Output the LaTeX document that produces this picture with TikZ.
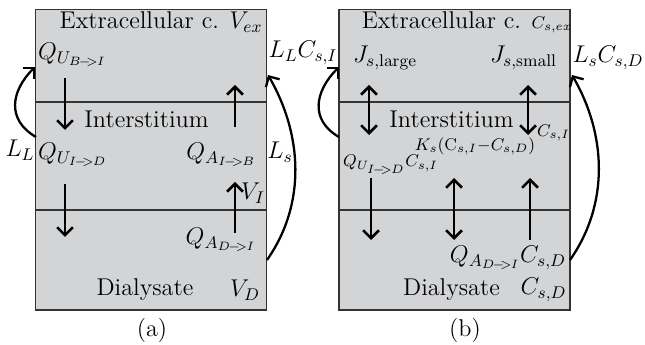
\RequirePackage{fix-cm}
\documentclass[tikz,border=0pt]{standalone}
\usetikzlibrary{arrows.meta}
\definecolor{boxgray}{RGB}{211,212,214}
\newcommand{\flowarr}{\mkern-2mu-\mkern-5mu>\mkern-1mu}
\begin{document}
\begin{tikzpicture}[
    panel/.style={draw=black!80, fill=boxgray, line width=0.6pt},
    divider/.style={draw=black!80, line width=0.6pt},
    flow/.style={-{Straight Barb[length=4.5pt, width=9pt]}, line width=1.5pt},
    swap/.style={{Straight Barb[length=4.5pt, width=9pt]}-{Straight Barb[length=4.5pt, width=9pt]}, line width=1.5pt},
    leak/.style={-{Straight Barb[length=4.5pt, width=9pt]}, line width=1.3pt},
    txt/.style={font=\fontsize{13.8}{16}\selectfont, inner sep=1pt}
]
    \useasboundingbox (0,0) rectangle (12.9,6.9);

    % Compartiments
    \foreach \x in {0.714, 6.78} {
        \draw[panel] (\x, 0.7) rectangle ++(4.62, 6.014);
        \draw[divider] (\x, 4.86) -- ++(4.62, 0);
        \draw[divider] (\x, 2.7) -- ++(4.62, 0);
    }

    % Panel (a)
    \node[txt] (exA) at (3.22, 6.46) {Extracellular c. $V_{ex}$};
    \node[txt, anchor=west] (qubi) at (0.72, 5.8) {$Q_{U_{B\flowarr I}}$};
    \node[txt] (intA) at (2.93, 4.52) {Interstitium};
    \node[txt] (llA) at (0.4, 3.9) {$L_L$};
    \node[txt, anchor=west] (quidA) at (0.72, 3.8) {$Q_{U_{I\flowarr D}}$};
    \node[txt, anchor=east] (qaib) at (5.16, 3.8) {$Q_{A_{I\flowarr B}}$};
    \node[txt] (lsA) at (5.6, 3.85) {$L_s$};
    \node[txt] (llcsi) at (6.06, 5.84) {$L_L C_{s,I}$};
    \node[txt] (vi) at (5.06, 3.04) {$V_I$};
    \node[txt, anchor=east] (qadiA) at (5.16, 2.1) {$Q_{A_{D\flowarr I}}$};
    \node[txt] (dialA) at (2.9, 1.1) {Dialysate};
    \node[txt] (vd) at (4.9, 1.1) {$V_D$};
    \node[txt] (capA) at (3.04, 0.3) {(a)};

    \coordinate (a1s) at (1.3, 5.34);  \coordinate (a1e) at (1.3, 4.3);
    \coordinate (a2s) at (4.7, 4.36);  \coordinate (a2e) at (4.7, 5.2);
    \coordinate (a3s) at (1.3, 3.22);  \coordinate (a3e) at (1.3, 2.16);
    \coordinate (a4s) at (4.7, 2.24);  \coordinate (a4e) at (4.7, 3.26);
    \coordinate (llAs) at (0.72, 4.16); \coordinate (llAe) at (0.7, 5.56);
    \coordinate (lsAs) at (5.34, 1.7);  \coordinate (lsAe) at (5.36, 5.4);

    \draw[flow] (a1s) -- (a1e);
    \draw[flow] (a2s) -- (a2e);
    \draw[flow] (a3s) -- (a3e);
    \draw[flow] (a4s) -- (a4e);
    \draw[leak] (llAs) to[out=150, in=225, looseness=1.25] (llAe);
    \draw[leak] (lsAs) to[out=55, in=-60, looseness=0.95] (lsAe);

    % Panel (b)
    \node[txt] (exB) at (9.34, 6.46) {Extracellular c. $\scriptstyle C_{s,ex}$};
    \node[txt] (jl) at (7.7, 5.74) {$J_{s,\mathrm{large}}$};
    \node[txt] (js) at (10.47, 5.74) {$J_{s,\mathrm{small}}$};
    \node[txt] (lscsd) at (12.16, 5.74) {$L_s C_{s,D}$};
    \node[txt] (intB) at (9.03, 4.52) {Interstitium};
    \node[txt] (csi) at (11.07, 4.24) {$\scriptstyle C_{s,I}$};
    \node[txt] (ks) at (9.5, 3.97) {$\scriptstyle K_s(\mathrm{C}_{s,I}-C_{s,D})$};
    \node[txt, anchor=west] (quidB) at (6.82, 3.6) {$\scriptstyle Q_{U_{I\flowarr D}}C_{s,I}$};
    \node[txt, anchor=east] (qadiB) at (11.36, 1.74) {$Q_{A_{D\flowarr I}}C_{s,D}$};
    \node[txt] (dialB) at (9.03, 1.1) {Dialysate};
    \node[txt] (csd) at (10.87, 1.1) {$C_{s,D}$};
    \node[txt] (capB) at (9.3, 0.3) {(b)};

    \coordinate (b1s) at (7.38, 5.2);  \coordinate (b1e) at (7.38, 4.2);
    \coordinate (b2s) at (10.56, 5.2); \coordinate (b2e) at (10.56, 4.2);
    \coordinate (b3s) at (7.42, 3.34); \coordinate (b3e) at (7.42, 2.1);
    \coordinate (b4s) at (9.08, 3.34); \coordinate (b4e) at (9.08, 2.1);
    \coordinate (b5s) at (10.6, 2.1);  \coordinate (b5e) at (10.6, 3.34);
    \coordinate (llBs) at (6.78, 4.16); \coordinate (llBe) at (6.78, 5.56);
    \coordinate (lsBs) at (11.4, 1.7);  \coordinate (lsBe) at (11.44, 5.4);

    \draw[swap] (b1s) -- (b1e);
    \draw[swap] (b2s) -- (b2e);
    \draw[flow] (b3s) -- (b3e);
    \draw[swap] (b4s) -- (b4e);
    \draw[flow] (b5s) -- (b5e);
    \draw[leak] (llBs) to[out=150, in=225, looseness=1.25] (llBe);
    \draw[leak] (lsBs) to[out=55, in=-60, looseness=0.95] (lsBe);

\end{tikzpicture}
\end{document}
